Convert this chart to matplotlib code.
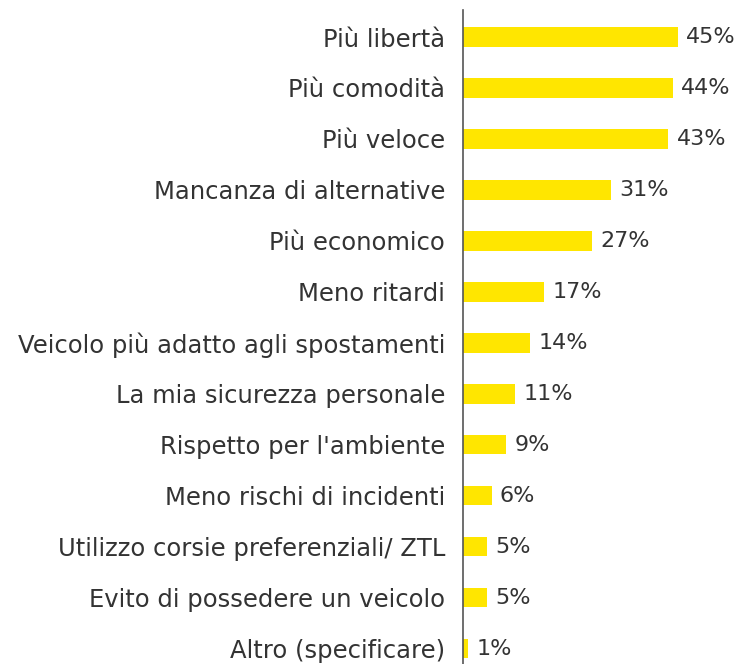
import matplotlib.pyplot as plt

# Reasons data
categories = [
    "Più libertà",
    "Più comodità",
    "Più veloce",
    "Mancanza di alternative",
    "Più economico",
    "Meno ritardi",
    "Veicolo più adatto agli spostamenti",
    "La mia sicurezza personale",
    "Rispetto per l'ambiente",
    "Meno rischi di incidenti",
    "Utilizzo corsie preferenziali/ ZTL",
    "Evito di possedere un veicolo",
    "Altro (specificare)",
]
values = [45, 44, 43, 31, 27, 17, 14, 11, 9, 6, 5, 5, 1]
value_labels = [f"{v}%" for v in values]

text_color = "#333333"

fig = plt.figure(figsize=(7.35, 6.64), dpi=100)
ax = fig.add_axes([463 / 735, 0, 1 - 463 / 735, 654 / 664])

ypos = list(range(len(categories)))
bars = ax.barh(ypos, values, height=0.38, color="#FFE600")

ax.set_xlim(0, 57)
ax.set_ylim(12.3, -0.53)

ax.set_yticks(ypos)
ax.set_yticklabels(categories, fontsize=17.5, color=text_color)
ax.tick_params(axis="y", length=0, pad=13)
ax.set_xticks([])

for side in ["top", "right", "bottom"]:
    ax.spines[side].set_visible(False)
ax.spines["left"].set_color("#555555")
ax.spines["left"].set_linewidth(1.2)

ax.bar_label(bars, labels=value_labels, padding=6, fontsize=16, color=text_color)

fig.savefig("out.png", dpi=100)
